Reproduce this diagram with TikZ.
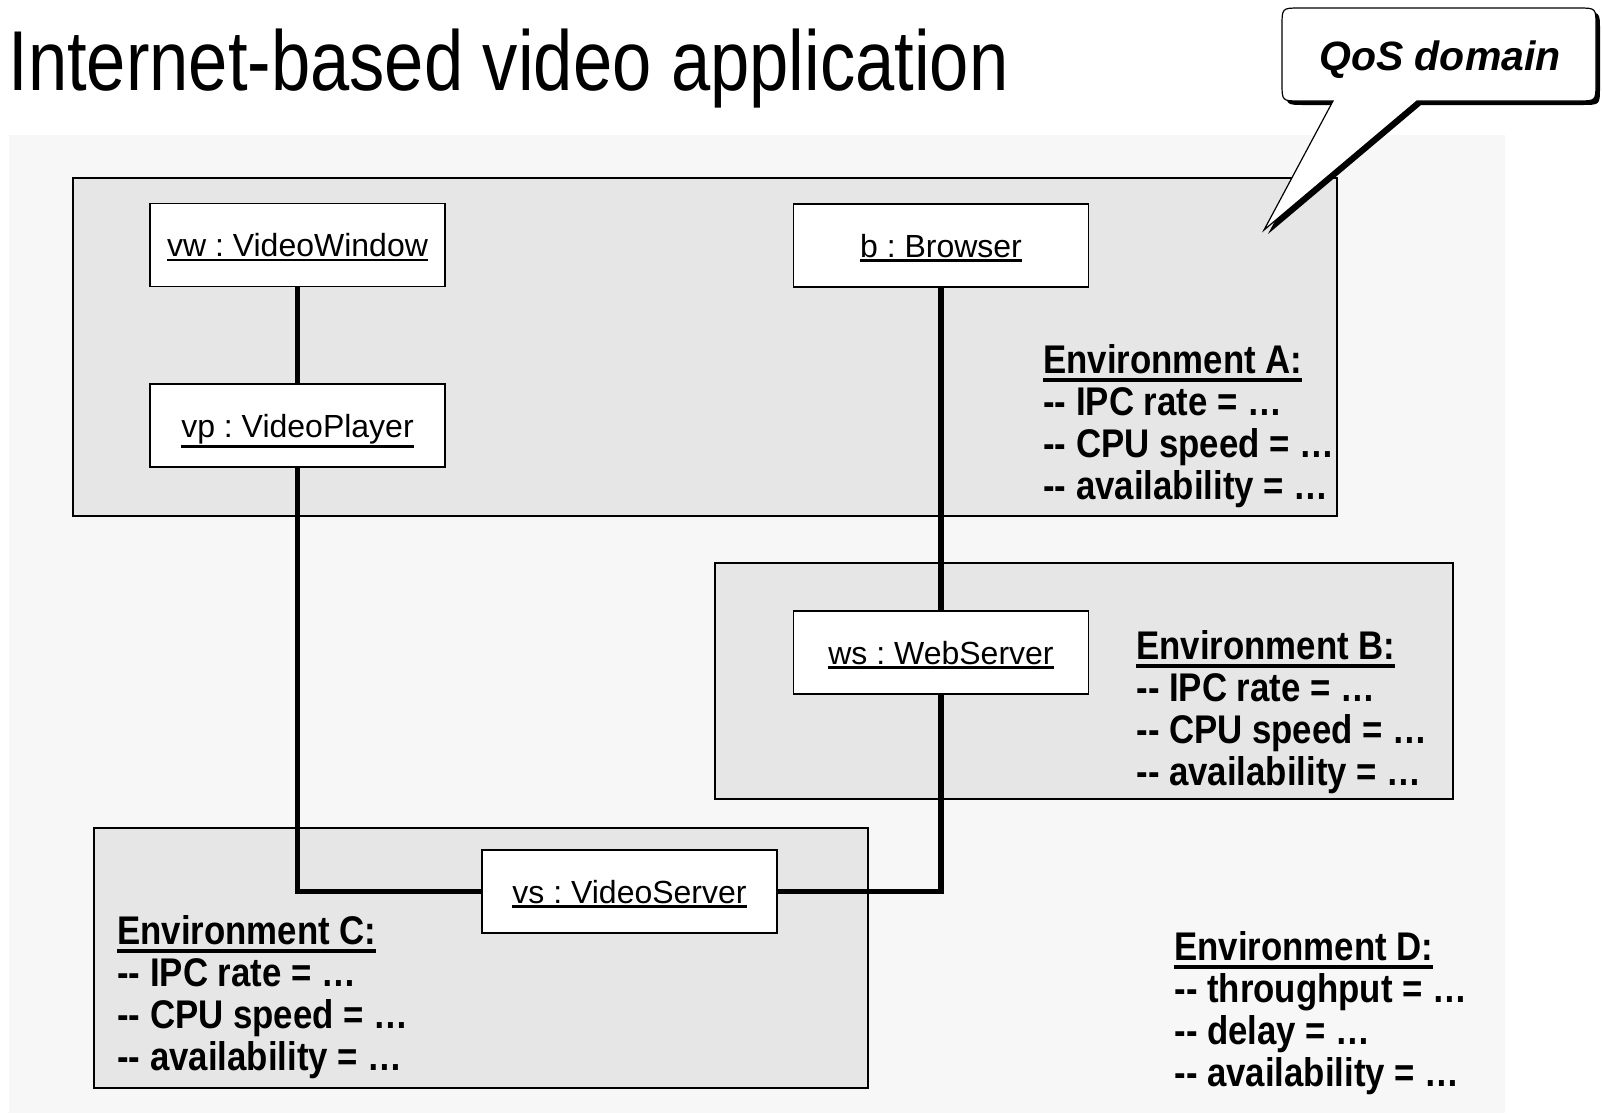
\documentclass[tikz,border=0pt]{standalone}
\usepackage{fontspec}
\setmainfont{Liberation Sans}
\newfontfamily\titlefont[FakeStretch=0.83]{Liberation Sans}
\newfontfamily\envfont[FakeStretch=0.87]{Liberation Sans}
\frenchspacing

\definecolor{pagegray}{HTML}{F7F7F7}
\definecolor{envgray}{HTML}{E6E6E6}

% underline with a chosen gap and rule thickness, placed below the text depth
\newdimen\ulshift
\newcommand\ulwith[3]{%
  \setbox0=\hbox{#3}%
  \ulshift=\dp0 \advance\ulshift by #1\relax \advance\ulshift by #2\relax
  \rlap{\rule[-\ulshift]{\wd0}{#2}}\box0}
\newcommand\objname[1]{\ulwith{0.9pt}{1.2pt}{#1}}
\newcommand\envhead[1]{\ulwith{2.2pt}{1.9pt}{#1}}
% four-line block whose baseline is that of its first line
\newcommand\envlines[4]{\vtop{\baselineskip=21pt \lineskiplimit=-20pt
  \hbox{\envhead{#1}}\hbox{#2}\hbox{#3}\hbox{#4}}}

% speech balloon outline (body with tail)
\newcommand\balloon[1]{%
  \path[#1] (1300,8) -- (1578,8) .. controls (1596,8) .. (1596,26)
    -- (1596,83) .. controls (1596,101) .. (1578,101)
    -- (1417,101) -- (1264,230) -- (1333,101)
    -- (1300,101) .. controls (1282,101) .. (1282,83)
    -- (1282,26) .. controls (1282,8) .. (1300,8) -- cycle;}

\begin{document}
\begin{tikzpicture}[x=0.5pt,y=-0.5pt,
  obj/.style={draw=black, line width=0.75pt, fill=white,
    minimum width=147.5pt, minimum height=41.5pt, inner sep=0pt,
    text height=11.5pt, text depth=0pt,
    font=\fontsize{16pt}{19pt}\selectfont},
  envbox/.style={draw=black, line width=1pt, fill=envgray},
  wire/.style={line width=2.9pt},
  envtext/.style={anchor=base west, inner sep=0pt,
    font=\envfont\bfseries\fontsize{20pt}{21pt}\selectfont}]

\useasboundingbox (0,0) rectangle (1602,1114);

% page area
\fill[pagegray] (9,135) rectangle (1505,1113);

% environments
\path[envbox] (73,178) rectangle (1337,516);
\path[envbox] (715,563) rectangle (1453,799);
\path[envbox] (94,828) rectangle (868,1088);

% objects
\node[obj] (vw) at (297.5,245) {\objname{vw : VideoWindow}};
\node[obj] (vp) at (297.5,425.5) {\objname{vp : VideoPlayer}};
\node[obj] (b)  at (941,245.5) {\objname{b : Browser}};
\node[obj] (ws) at (941,652.5) {\objname{ws : WebServer}};
\node[obj] (vs) at (629.5,891.5) {\objname{vs : VideoServer}};

% links
\draw[wire] (vw) -- (vp);
\draw[wire] (vp.south) |- (vs.west);
\draw[wire] (b) -- (ws);
\draw[wire] (ws.south) |- (vs.east);

% environment properties
\node[envtext] (envAtext) at (1043,373)
  {\envlines{Environment A:}{-{}- IPC rate = …}{-{}- CPU speed = …}{-{}- availability = …}};
\node[envtext] (envBtext) at (1136,659)
  {\envlines{Environment B:}{-{}- IPC rate = …}{-{}- CPU speed = …}{-{}- availability = …}};
\node[envtext] (envCtext) at (117,944)
  {\envlines{Environment C:}{-{}- IPC rate = …}{-{}- CPU speed = …}{-{}- availability = …}};
\node[envtext] (envDtext) at (1174,960)
  {\envlines{Environment D:}{-{}- throughput = …}{-{}- delay = …}{-{}- availability = …}};

% title
\node[anchor=base west, inner sep=0pt,
  font=\titlefont\fontsize{42.5pt}{50pt}\selectfont] (title) at (8,90)
  {Internet-based video application};

% balloon with drop shadow
\balloon{fill=black, shift={(4,4)}}
\balloon{fill=white, draw=black, line width=0.6pt}
\node[anchor=base, inner sep=0pt,
  font=\bfseries\itshape\fontsize{20.5pt}{24pt}\selectfont] (qos) at (1440,70)
  {QoS domain};
\end{tikzpicture}
\end{document}
